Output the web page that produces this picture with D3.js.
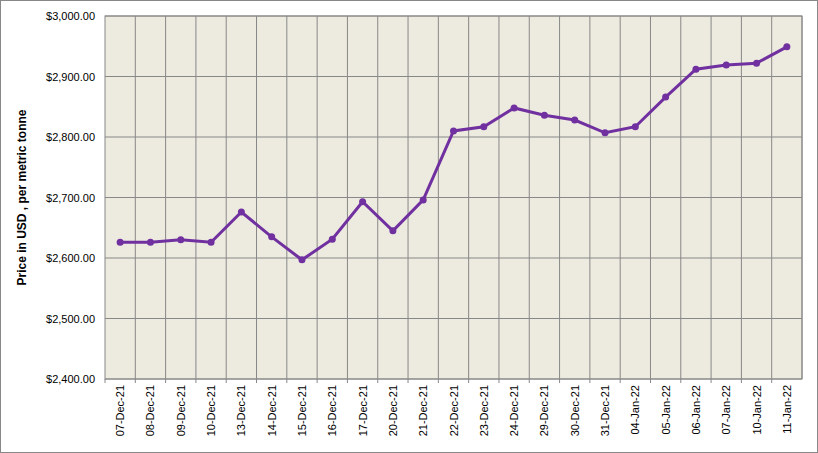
<!DOCTYPE html>
<html><head><meta charset="utf-8">
<script src="https://cdn.jsdelivr.net/npm/d3@7"></script>
<style>body{margin:0;background:#fff}</style></head>
<body><svg id="c" width="818" height="453"></svg>
<script>
const categories=["07-Dec-21","08-Dec-21","09-Dec-21","10-Dec-21","13-Dec-21","14-Dec-21","15-Dec-21","16-Dec-21","17-Dec-21","20-Dec-21","21-Dec-21","22-Dec-21","23-Dec-21","24-Dec-21","29-Dec-21","30-Dec-21","31-Dec-21","04-Jan-22","05-Jan-22","06-Jan-22","07-Jan-22","10-Jan-22","11-Jan-22"];
const prices=[2626,2626,2630,2626,2676,2635,2597,2631,2693,2645,2696,2810,2817,2848,2836,2828,2807,2817,2866,2912,2919,2922,2949];
const yTicks=[2400,2500,2600,2700,2800,2900,3000];
const svg=d3.select("#c");
svg.append("rect").attr("x",0.5).attr("y",0.5).attr("width",817).attr("height",452).attr("fill","#fff").attr("stroke","#888");
const L=105,R=802,T=16,B=379;
const x=d3.scaleBand().domain(categories).range([L,R]);
const y=d3.scaleLinear().domain([2400,3000]).range([B,T]);
svg.append("rect").attr("x",L).attr("y",T).attr("width",R-L).attr("height",B-T).attr("fill","#EDEADF");
const g=svg.append("g");
yTicks.forEach(t=>g.append("line").attr("x1",L).attr("x2",R).attr("y1",y(t)).attr("y2",y(t)).attr("stroke","#888"));
categories.forEach((c,i)=>{const xx=x(c)+x.bandwidth();g.append("line").attr("x1",xx).attr("x2",xx).attr("y1",T).attr("y2",B).attr("stroke","#888");});
svg.append("rect").attr("x",L).attr("y",T).attr("width",R-L).attr("height",B-T).attr("fill","none").attr("stroke","#888");
const fmt=d3.format(",.2f");
yTicks.forEach(t=>svg.append("text").attr("x",L-10).attr("y",y(t)+4).attr("text-anchor","end").attr("font-family","Liberation Sans, Arial").attr("font-size",11).text("$"+fmt(t)));
categories.forEach(c=>{const cx=x(c)+x.bandwidth()/2;
 svg.append("line").attr("x1",cx-x.bandwidth()/2).attr("x2",cx-x.bandwidth()/2).attr("y1",B).attr("y2",B+4).attr("stroke","#888");
 svg.append("text").attr("transform",`translate(${cx+4},${B+6}) rotate(-90)`).attr("text-anchor","end").attr("font-family","Liberation Sans, Arial").attr("font-size",11).text(c);});
svg.append("text").attr("transform",`translate(26,${(T+B)/2}) rotate(-90)`).attr("text-anchor","middle").attr("font-family","Liberation Sans, Arial").attr("font-size",12).attr("font-weight","bold").text("Price in USD , per metric tonne");
const line=d3.line().x((d,i)=>x(categories[i])+x.bandwidth()/2).y(d=>y(d));
svg.append("path").datum(prices).attr("d",line).attr("fill","none").attr("stroke","#7030A0").attr("stroke-width",3);
svg.selectAll("circle.p").data(prices).enter().append("circle").attr("cx",(d,i)=>x(categories[i])+x.bandwidth()/2).attr("cy",d=>y(d)).attr("r",3.5).attr("fill","#7030A0");
</script></body></html>
